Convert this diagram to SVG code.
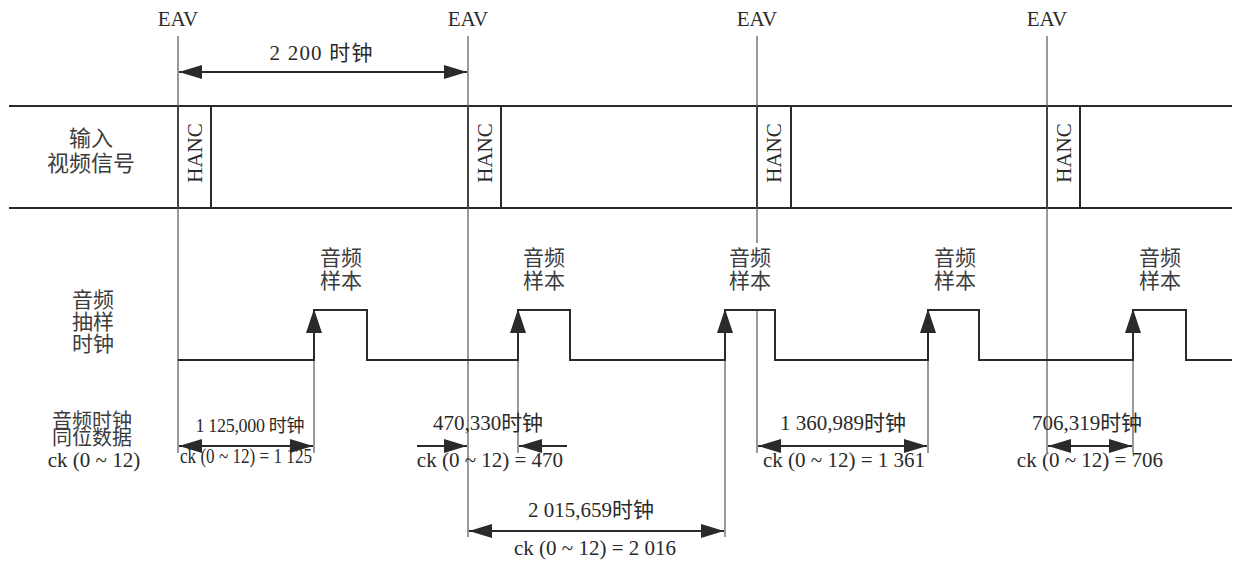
<svg xmlns="http://www.w3.org/2000/svg" xmlns:xlink="http://www.w3.org/1999/xlink" width="1236" height="563" viewBox="0 0 1236 563">
<style>
  .t { font-family: "Liberation Serif", "Noto Sans CJK SC", serif; font-size: 21px; fill: #2a2a2a; text-anchor: middle; }
  .cjk { font-family: "Noto Sans CJK SC", "Liberation Serif", sans-serif; font-size: 21px; fill: #3c3c3c; text-anchor: middle; }
  .thin { stroke: #555; stroke-width: 1.2; fill: none; }
  .thick { stroke: #2a2a2a; stroke-width: 2; fill: none; }
  .dim { stroke: #2a2a2a; stroke-width: 2; fill: none; }
</style>
<defs>
  <marker id="ah" viewBox="0 0 23 14" refX="23" refY="7" markerWidth="23" markerHeight="14" markerUnits="userSpaceOnUse" orient="auto-start-reverse">
    <path d="M0,0 L23,7 L0,14 z" fill="#2a2a2a"/>
  </marker>
  <path id="up" d="M0,0 L8,24 L-8,24 z" fill="#2a2a2a"/>
</defs>
<rect width="1236" height="563" fill="#ffffff"/>

<g id="eav-labels">
  <text class="t" x="178" y="26">EAV</text>
  <text class="t" x="468" y="26">EAV</text>
  <text class="t" x="757" y="26">EAV</text>
  <text class="t" x="1047" y="26">EAV</text>
</g>

<g id="row-labels">
  <text class="cjk" style="font-size:22px"><tspan x="91" y="146">输入</tspan><tspan x="91" y="171">视频信号</tspan></text>
  <text class="cjk"><tspan x="93" y="307">音频</tspan><tspan x="93" y="329">抽样</tspan><tspan x="93" y="351">时钟</tspan></text>
  <text class="cjk" style="font-size:20px"><tspan x="92" y="428">音频时钟</tspan><tspan x="92" y="445">同位数据</tspan></text>
  <text class="t" x="94" y="467">ck (0 ~ 12)</text>
</g>

<g id="video-band">
  <line class="thick" x1="9" y1="106" x2="1232" y2="106"/>
  <line class="thick" x1="9" y1="208" x2="1232" y2="208"/>
</g>

<g id="hanc1">
  <rect class="thick" x="178" y="106" width="33" height="102"/>
  <text class="t" transform="translate(202,153) rotate(-90)">HANC</text>
</g>
<g id="hanc2">
  <rect class="thick" x="468" y="106" width="33" height="102"/>
  <text class="t" transform="translate(492,153) rotate(-90)">HANC</text>
</g>
<g id="hanc3">
  <rect class="thick" x="757" y="106" width="34" height="102"/>
  <text class="t" transform="translate(781,153) rotate(-90)">HANC</text>
</g>
<g id="hanc4">
  <rect class="thick" x="1047" y="106" width="33" height="102"/>
  <text class="t" transform="translate(1071,153) rotate(-90)">HANC</text>
</g>

<g id="sample-labels">
  <text class="cjk"><tspan x="341" y="265">音频</tspan><tspan x="341" y="288">样本</tspan></text>
  <text class="cjk"><tspan x="544" y="265">音频</tspan><tspan x="544" y="288">样本</tspan></text>
  <text class="cjk"><tspan x="750" y="265">音频</tspan><tspan x="750" y="288">样本</tspan></text>
  <text class="cjk"><tspan x="955" y="265">音频</tspan><tspan x="955" y="288">样本</tspan></text>
  <text class="cjk"><tspan x="1160" y="265">音频</tspan><tspan x="1160" y="288">样本</tspan></text>
</g>

<g id="connectors">
  <!-- EAV reference lines -->
  <line class="thin" x1="178" y1="36" x2="178" y2="453"/>
  <line class="thin" x1="468" y1="36" x2="468" y2="537"/>
  <line class="thin" x1="757" y1="36" x2="757" y2="243"/>
  <line class="thin" x1="757" y1="310" x2="757" y2="453"/>
  <line class="thin" x1="1047" y1="36" x2="1047" y2="453"/>
  <!-- sample edge extension lines -->
  <line class="thin" x1="314" y1="360" x2="314" y2="453"/>
  <line class="thin" x1="518" y1="360" x2="518" y2="453"/>
  <line class="thin" x1="725" y1="360" x2="725" y2="537"/>
  <line class="thin" x1="928" y1="360" x2="928" y2="453"/>
  <line class="thin" x1="1133" y1="360" x2="1133" y2="453"/>

  <!-- audio sampling clock waveform -->
  <polyline class="thick" points="178,360 314,360 314,310 367,310 367,360 518,360 518,310 570,310 570,360 725,360 725,310 775,310 775,360 928,360 928,310 979,310 979,360 1133,360 1133,310 1186,310 1186,360 1232,360"/>
  <use xlink:href="#up" x="314" y="309"/>
  <use xlink:href="#up" x="518" y="309"/>
  <use xlink:href="#up" x="725" y="309"/>
  <use xlink:href="#up" x="928" y="309"/>
  <use xlink:href="#up" x="1133" y="309"/>

  <!-- 2200 clock arrow -->
  <line class="dim" x1="179" y1="72" x2="467" y2="72" marker-start="url(#ah)" marker-end="url(#ah)"/>
  <!-- measurement arrows -->
  <line class="dim" x1="179" y1="446" x2="313" y2="446" marker-start="url(#ah)" marker-end="url(#ah)"/>
  <line class="dim" x1="417" y1="446" x2="467" y2="446" marker-end="url(#ah)"/>
  <line class="dim" x1="567" y1="446" x2="519" y2="446" marker-end="url(#ah)"/>
  <line class="dim" x1="758" y1="446" x2="927" y2="446" marker-start="url(#ah)" marker-end="url(#ah)"/>
  <line class="dim" x1="1048" y1="446" x2="1132" y2="446" marker-start="url(#ah)" marker-end="url(#ah)"/>
  <line class="dim" x1="469" y1="531" x2="724" y2="531" marker-start="url(#ah)" marker-end="url(#ah)"/>
</g>

<g id="measure-labels">
  <text class="t" x="321" y="60" textLength="103" lengthAdjust="spacing">2 200 时钟</text>
  <text class="t" x="250" y="432" style="font-size:18px" textLength="109" lengthAdjust="spacing">1 125,000 时钟</text>
  <text class="t" x="246" y="463" textLength="132" lengthAdjust="spacingAndGlyphs">ck (0 ~ 12) = 1 125</text>
  <text class="t" x="488" y="430">470,330时钟</text>
  <text class="t" x="490" y="467">ck (0 ~ 12) = 470</text>
  <text class="t" x="843" y="430">1 360,989时钟</text>
  <text class="t" x="844" y="467">ck (0 ~ 12) = 1 361</text>
  <text class="t" x="1087" y="430">706,319时钟</text>
  <text class="t" x="1090" y="467">ck (0 ~ 12) = 706</text>
  <text class="t" x="591" y="517">2 015,659时钟</text>
  <text class="t" x="595" y="555">ck (0 ~ 12) = 2 016</text>
</g>
</svg>
